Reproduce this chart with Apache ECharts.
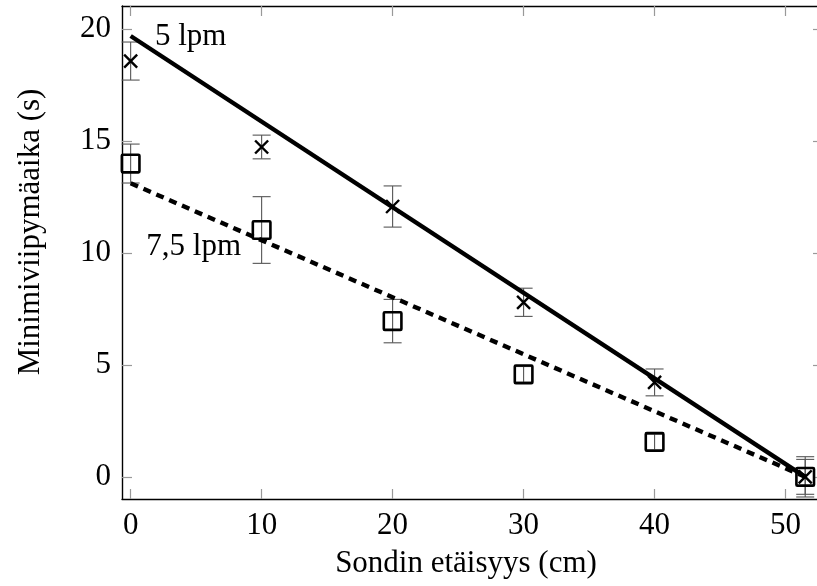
<!DOCTYPE html>
<html>
<head>
<meta charset="utf-8">
<script src="https://cdn.jsdelivr.net/npm/echarts@6/dist/echarts.min.js"></script>
<style>
html,body{margin:0;padding:0;background:#fff;}
#main{width:817px;height:586px;}
</style>
</head>
<body>
<div id="main"></div>
<script>
// Data
const xVals = [0, 10, 20, 30, 40, 51.5];
const y5 = [18.58, 14.74, 12.08, 7.8, 4.22, 0];
const err5 = [0.85, 0.53, 0.92, 0.63, 0.6, 0.9];
const y75 = [14.0, 11.03, 6.96, 4.58, 1.56, 0];
const err75 = [0.87, 1.49, 0.97, 0.35, 0.35, 0.78];
const fitX = [0, 51.5];
const fit5 = [19.7, 0];
const fit75 = [13.12, 0];
const xTicks = [0, 10, 20, 30, 40, 50];
const yTicks = [0, 5, 10, 15, 20];
const labelTexts = ['5 lpm', '7,5 lpm'];
const labelX = [1.85, 1.2];
const labelY = [19.66, 10.27];
const xTitle = 'Sondin etäisyys (cm)';
const yTitle = 'Minimiviipymäaika (s)';

const FONT = 'Liberation Serif';
const FS = 31;
const chart = echarts.init(document.getElementById('main'), null, {renderer: 'canvas'});

function errData(ys, es) { return xVals.map((x, i) => [x, ys[i], es[i]]); }

function renderErr(params, api) {
  const x = api.value(0), y = api.value(1), e = api.value(2);
  const top = api.coord([x, y + e]);
  const bot = api.coord([x, y - e]);
  const hw = 9;
  const style = {stroke: '#555', lineWidth: 1.1};
  return {
    type: 'group',
    children: [
      {type: 'line', shape: {x1: top[0], y1: top[1], x2: bot[0], y2: bot[1]}, style: style},
      {type: 'line', shape: {x1: top[0] - hw, y1: top[1], x2: top[0] + hw, y2: top[1]}, style: style},
      {type: 'line', shape: {x1: bot[0] - hw, y1: bot[1], x2: bot[0] + hw, y2: bot[1]}, style: style}
    ]
  };
}

function renderCross(params, api) {
  const c = api.coord([api.value(0), api.value(1)]);
  const h = 6.5;
  const style = {stroke: '#000', lineWidth: 2.4};
  return {
    type: 'group',
    children: [
      {type: 'line', shape: {x1: c[0] - h, y1: c[1] - h, x2: c[0] + h, y2: c[1] + h}, style: style},
      {type: 'line', shape: {x1: c[0] - h, y1: c[1] + h, x2: c[0] + h, y2: c[1] - h}, style: style}
    ]
  };
}

function renderSquare(params, api) {
  const c = api.coord([api.value(0), api.value(1)]);
  const h = 8.8;
  return {
    type: 'rect',
    shape: {x: c[0] - h, y: c[1] - h, width: 2 * h, height: 2 * h, r: 1},
    style: {fill: 'none', stroke: '#000', lineWidth: 2.6}
  };
}

function renderLabel(params, api) {
  const c = api.coord([api.value(0), api.value(1)]);
  return {
    type: 'text',
    x: c[0], y: c[1],
    style: {
      text: labelTexts[params.dataIndex],
      fill: '#000', font: FS + 'px "' + FONT + '"',
      align: 'left', verticalAlign: 'middle'
    }
  };
}

const tickStyle = {show: true, inside: true, length: 10, lineStyle: {color: '#999', width: 1.2}};
const lineStyleAxis = {show: true, onZero: false, lineStyle: {color: '#000', width: 1.4}};

const option = {
  backgroundColor: '#fff',
  animation: false,
  grid: {left: 122, top: 6, right: 0, height: 493},
  graphic: [
    {
      type: 'text', x: 466, y: 564,
      style: {text: xTitle, font: FS + 'px "' + FONT + '"', fill: '#000', align: 'center', verticalAlign: 'middle'}
    },
    {
      type: 'text', x: 31, y: 232, rotation: Math.PI / 2,
      style: {text: yTitle, font: FS + 'px "' + FONT + '"', fill: '#000', align: 'center', verticalAlign: 'middle'}
    }
  ],
  xAxis: [
    {
      type: 'value', min: -0.66, max: 52.40, position: 'bottom',
      axisLine: lineStyleAxis,
      axisTick: Object.assign({}, tickStyle, {customValues: xTicks}),
      axisLabel: {customValues: xTicks, margin: 11, fontFamily: FONT, fontSize: FS, color: '#000'},
      splitLine: {show: false}
    },
    {
      type: 'value', min: -0.66, max: 52.40, position: 'top',
      axisLine: lineStyleAxis,
      axisTick: Object.assign({}, tickStyle, {customValues: xTicks}),
      axisLabel: {show: false},
      splitLine: {show: false}
    }
  ],
  yAxis: [
    {
      type: 'value', min: -0.99, max: 21.04, position: 'left',
      axisLine: lineStyleAxis,
      axisTick: Object.assign({}, tickStyle, {customValues: yTicks}),
      axisLabel: {customValues: yTicks, margin: 11, fontFamily: FONT, fontSize: FS, color: '#000'},
      splitLine: {show: false}
    },
    {
      type: 'value', min: -0.99, max: 21.04, position: 'right',
      axisLine: {show: false, onZero: false},
      axisTick: Object.assign({}, tickStyle, {customValues: yTicks, length: 4}),
      axisLabel: {show: false},
      splitLine: {show: false}
    }
  ],
  series: [
    {type: 'custom', renderItem: renderErr, data: errData(y5, err5), z: 2, clip: false},
    {type: 'custom', renderItem: renderErr, data: errData(y75, err75), z: 2, clip: false},
    {
      type: 'line', data: fitX.map((x, i) => [x, fit5[i]]), symbol: 'none', z: 3,
      lineStyle: {color: '#000', width: 4.4}
    },
    {
      type: 'line', data: fitX.map((x, i) => [x, fit75[i]]), symbol: 'none', z: 3,
      lineStyle: {color: '#000', width: 4.4, type: [8, 6]}
    },
    {type: 'custom', renderItem: renderSquare, data: xVals.map((x, i) => [x, y75[i]]), z: 4, clip: false},
    {type: 'custom', renderItem: renderCross, data: xVals.map((x, i) => [x, y5[i]]), z: 5, clip: false},
    {type: 'custom', renderItem: renderLabel, data: labelX.map((x, i) => [x, labelY[i]]), z: 6, clip: false}
  ]
};
chart.setOption(option);
</script>
</body>
</html>
